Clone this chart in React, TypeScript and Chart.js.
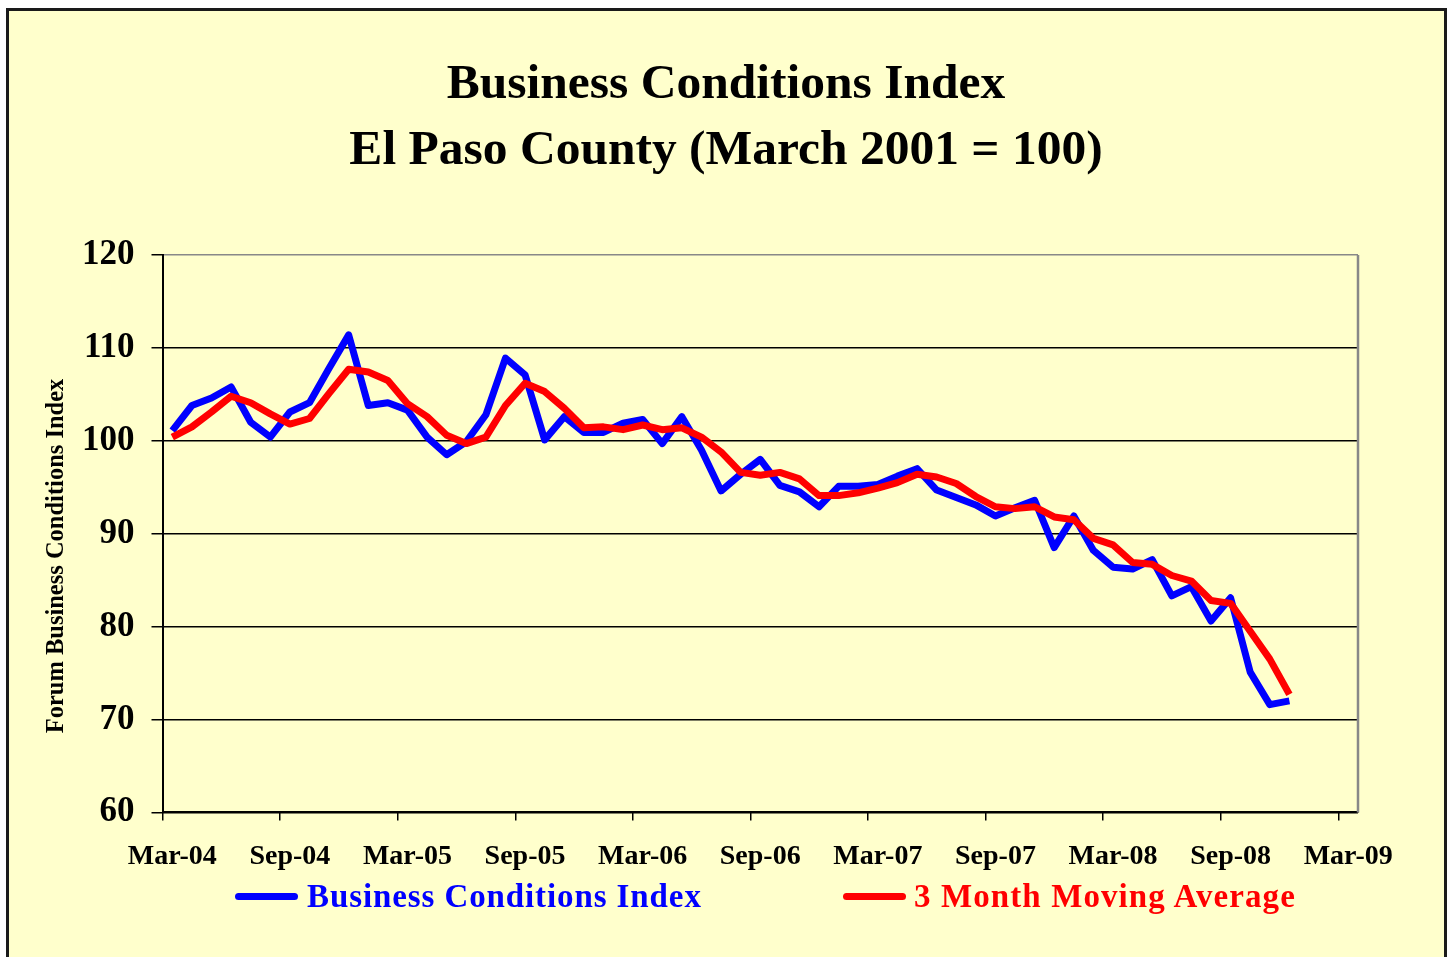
import React, { useEffect, useRef } from "react";
import { Chart, registerables } from "chart.js";

Chart.register(...registerables);

const months: string[] = [
  "Mar-04", "Apr-04", "May-04", "Jun-04", "Jul-04", "Aug-04", "Sep-04", "Oct-04", "Nov-04", "Dec-04",
  "Jan-05", "Feb-05", "Mar-05", "Apr-05", "May-05", "Jun-05", "Jul-05", "Aug-05", "Sep-05", "Oct-05", "Nov-05", "Dec-05",
  "Jan-06", "Feb-06", "Mar-06", "Apr-06", "May-06", "Jun-06", "Jul-06", "Aug-06", "Sep-06", "Oct-06", "Nov-06", "Dec-06",
  "Jan-07", "Feb-07", "Mar-07", "Apr-07", "May-07", "Jun-07", "Jul-07", "Aug-07", "Sep-07", "Oct-07", "Nov-07", "Dec-07",
  "Jan-08", "Feb-08", "Mar-08", "Apr-08", "May-08", "Jun-08", "Jul-08", "Aug-08", "Sep-08", "Oct-08", "Nov-08", "Dec-08",
  "Jan-09", "Feb-09", "Mar-09",
];

const businessIndex: number[] = [
  101.1, 103.8, 104.6, 105.8, 102.0, 100.4, 103.1, 104.1, 107.8, 111.4,
  103.8, 104.1, 103.3, 100.4, 98.5, 99.9, 102.8, 108.9, 107.1, 100.1,
  102.6, 100.9, 100.9, 101.9, 102.3, 99.7, 102.6, 99.0, 94.6, 96.4,
  98.0, 95.2, 94.5, 92.9, 95.1, 95.1, 95.3, 96.2, 97.0, 94.7,
  93.9, 93.1, 91.9, 92.8, 93.6, 88.5, 91.9, 88.2, 86.4, 86.2,
  87.2, 83.3, 84.3, 80.6, 83.1, 75.1, 71.6, 72.0,
];

const movingAverage: number[] = [
  100.4, 101.5, 103.1, 104.8, 104.1, 102.9, 101.8, 102.4, 105.1, 107.7,
  107.4, 106.5, 104.0, 102.6, 100.6, 99.7, 100.4, 103.8, 106.2, 105.3,
  103.5, 101.4, 101.5, 101.2, 101.7, 101.2, 101.4, 100.4, 98.8, 96.6,
  96.3, 96.6, 95.9, 94.1, 94.1, 94.4, 94.9, 95.5, 96.4, 96.1,
  95.4, 94.0, 92.9, 92.7, 92.9, 91.8, 91.5, 89.5, 88.8, 86.9,
  86.7, 85.5, 84.9, 82.8, 82.5, 79.5, 76.5, 72.7,
];

const titleLines: string[] = ["Business Conditions Index", "El Paso County (March 2001 = 100)"];
const yAxisTitle = "Forum Business Conditions Index";
const seriesNames: string[] = ["Business Conditions Index", "3 Month Moving Average"];

const FONT = "'Liberation Serif', 'Times New Roman', serif";
const BG = "#FFFFCC";

export default function App() {
  const canvasRef = useRef<HTMLCanvasElement | null>(null);

  useEffect(() => {
    if (!canvasRef.current) return;

    const framePlugin = {
      id: "frameAndTitle",
      beforeDatasetsDraw(chart: any) {
        const { ctx, chartArea } = chart;
        ctx.save();
        ctx.strokeStyle = "#888888";
        ctx.lineWidth = 2.5;
        ctx.beginPath();
        ctx.moveTo(chartArea.right, chartArea.top);
        ctx.lineTo(chartArea.right, chartArea.bottom);
        ctx.stroke();
        ctx.restore();
      },
      afterDraw(chart: any) {
        const { ctx, chartArea } = chart;
        ctx.save();
        // main title (centred over the whole frame)
        ctx.font = `bold 49.5px ${FONT}`;
        ctx.fillStyle = "#000";
        ctx.textAlign = "center";
        ctx.textBaseline = "alphabetic";
        ctx.fillText(titleLines[0], 726, 98);
        ctx.fillText(titleLines[1], 726, 164);
        // y axis title
        ctx.translate(57, chartArea.top + (chartArea.bottom - chartArea.top) * 0.54);
        ctx.rotate(-Math.PI / 2);
        ctx.font = `bold 24.5px ${FONT}`;
        ctx.textBaseline = "middle";
        ctx.fillText(yAxisTitle, 0, 0);
        ctx.restore();
      },
    };

    const chart = new Chart(canvasRef.current, {
      type: "line",
      data: {
        labels: months,
        datasets: [
          {
            label: seriesNames[1],
            data: movingAverage,
            borderColor: "#FF0000",
            backgroundColor: "#FF0000",
            borderWidth: 7,
            pointRadius: 0,
            tension: 0,
            borderJoinStyle: "round",
            order: 0,
          },
          {
            label: seriesNames[0],
            data: businessIndex,
            borderColor: "#0000FF",
            backgroundColor: "#0000FF",
            borderWidth: 7,
            pointRadius: 0,
            tension: 0,
            borderJoinStyle: "round",
            order: 1,
          },
        ],
      },
      options: {
        responsive: false,
        animation: false,
        layout: { padding: { top: 0, left: 65, right: 92, bottom: 63 } },
        plugins: {
          legend: { display: false },
          tooltip: { enabled: false },
          title: {
            display: true,
            text: titleLines,
            color: "rgba(0,0,0,0)",
            font: { family: FONT, size: 50, weight: "bold", lineHeight: 1.34 },
            padding: { top: 46.5, bottom: 74.5 },
          },
        },
        scales: {
          x: {
            type: "category",
            offset: true,
            grid: {
              offset: true,
              drawOnChartArea: false,
              drawTicks: true,
              tickLength: 8,
              lineWidth: 1.5,
              color: (ctx: any) => (ctx.index % 6 === 0 ? "#000" : "rgba(0,0,0,0)"),
            },
            border: { color: "#000", width: 2 },
            ticks: {
              autoSkip: false,
              maxRotation: 0,
              minRotation: 0,
              padding: 20,
              color: "#000",
              font: { family: FONT, size: 28, weight: "bold" },
              callback: (_v: any, i: number) => (i % 6 === 0 ? months[i] : ""),
            },
          },
          y: {
            min: 60,
            max: 120,
            grid: {
              lineWidth: 1.5,
              tickLength: 11,
              tickColor: "#000",
              color: (ctx: any) => (ctx.tick && ctx.tick.value === 120 ? "#888888" : "#000"),
            },
            border: { color: "#000", width: 2 },
            ticks: {
              stepSize: 10,
              padding: 17,
              color: "#000",
              font: { family: FONT, size: 35, weight: "bold" },
            },
          },
        },
      },
      plugins: [framePlugin],
    });

    return () => chart.destroy();
  }, []);

  const legendText: React.CSSProperties = {
    position: "absolute",
    top: 878,
    fontFamily: FONT,
    fontWeight: "bold",
    fontSize: 33,
    lineHeight: "36px",
    letterSpacing: "0.9px",
    whiteSpace: "nowrap",
  };

  return (
    <div style={{ position: "fixed", left: 0, top: 0, width: 1450, height: 957, background: "#fff", overflow: "hidden" }}>
      <div
        style={{
          position: "absolute",
          left: 6,
          top: 8,
          width: 1441,
          height: 1000,
          background: BG,
          border: "3px solid #1a1a1a",
          boxSizing: "border-box",
        }}
      />
      <canvas ref={canvasRef} width={1450} height={957} style={{ position: "absolute", left: 0, top: 0, width: 1450, height: 957 }} />
      <div style={{ position: "absolute", left: 235, top: 893, width: 63, height: 7, borderRadius: 4, background: "#0000FF" }} />
      <div style={{ ...legendText, left: 307, color: "#0000FF" }}>{seriesNames[0]}</div>
      <div style={{ position: "absolute", left: 843, top: 893, width: 63, height: 7, borderRadius: 4, background: "#FF0000" }} />
      <div style={{ ...legendText, left: 914, color: "#FF0000", letterSpacing: "1.1px" }}>{seriesNames[1]}</div>
    </div>
  );
}
